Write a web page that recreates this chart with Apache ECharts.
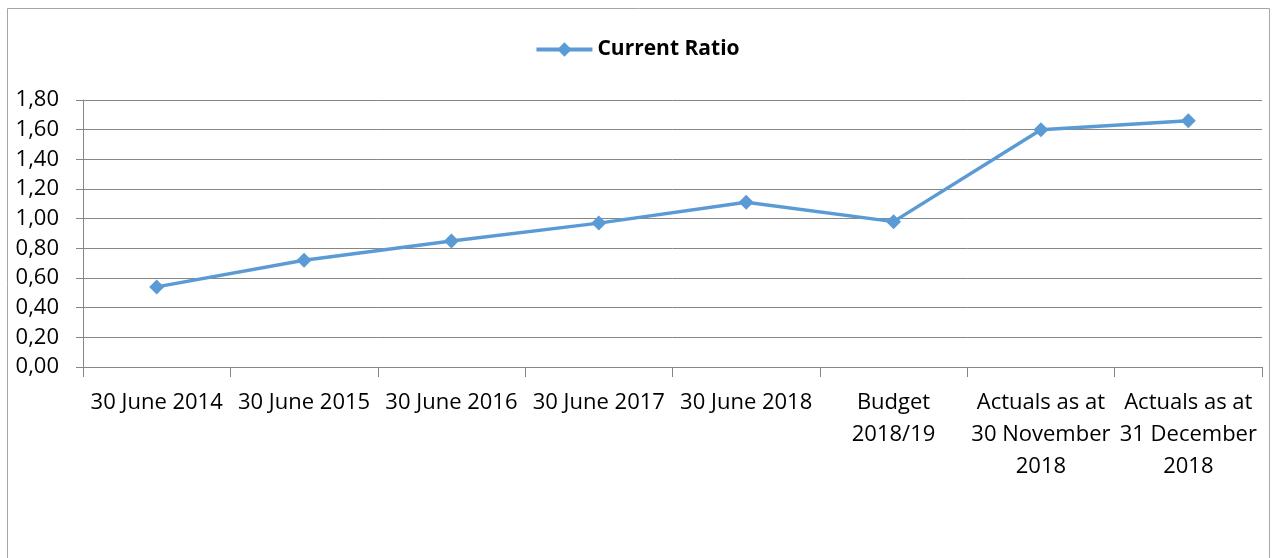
<!DOCTYPE html>
<html><head><meta charset="utf-8">
<script src="https://cdn.jsdelivr.net/npm/echarts@6/dist/echarts.min.js"></script>
<style>html,body{margin:0;padding:0;background:#fff}#c{width:1274px;height:558px}</style>
</head><body><div id="c"></div>
<script>
var categories = ['30 June 2014','30 June 2015','30 June 2016','30 June 2017','30 June 2018','Budget\n2018/19','Actuals as at\n30 November\n2018','Actuals as at\n31 December\n2018'];
var currentRatio = [0.54, 0.72, 0.85, 0.97, 1.11, 0.98, 1.60, 1.66];
var seriesName = 'Current Ratio';
var chart = echarts.init(document.getElementById('c'));
var font = '"Open Sans", "Liberation Sans", sans-serif';
chart.setOption({
  animation:false,
  graphic:[{type:'rect',shape:{x:7.5,y:8.5,width:1262,height:560},style:{fill:'none',stroke:'#a6a6a6',lineWidth:1},silent:true}],
  legend:{top:34,left:'center',itemWidth:56,itemHeight:18,itemGap:10,
    lineStyle:{width:4},
    textStyle:{fontFamily:font,fontWeight:'bold',fontSize:21,color:'#000'},data:[seriesName]},
  grid:{left:83,right:12,top:100,bottom:191,containLabel:false},
  xAxis:{type:'category',data:categories,boundaryGap:true,
    axisLine:{lineStyle:{color:'#868686',width:1}},
    axisTick:{show:true,length:10,alignWithLabel:false,lineStyle:{color:'#868686'}},
    axisLabel:{fontFamily:font,fontSize:22,color:'#000',margin:20,lineHeight:32,interval:0}},
  yAxis:{type:'value',min:0,max:1.8,interval:0.2,
    axisLine:{show:true,lineStyle:{color:'#868686'}},
    axisTick:{show:true,length:7,lineStyle:{color:'#868686'}},
    splitLine:{lineStyle:{color:'#868686',width:1}},
    axisLabel:{fontFamily:font,fontSize:22,color:'#000',margin:24,formatter:function(v){return v.toFixed(2).replace('.',',');}}},
  series:[{name:seriesName,type:'line',data:currentRatio,symbol:'diamond',symbolSize:15,
    lineStyle:{color:'#5b9bd5',width:3.5},itemStyle:{color:'#5b9bd5'}}]
});
</script></body></html>
